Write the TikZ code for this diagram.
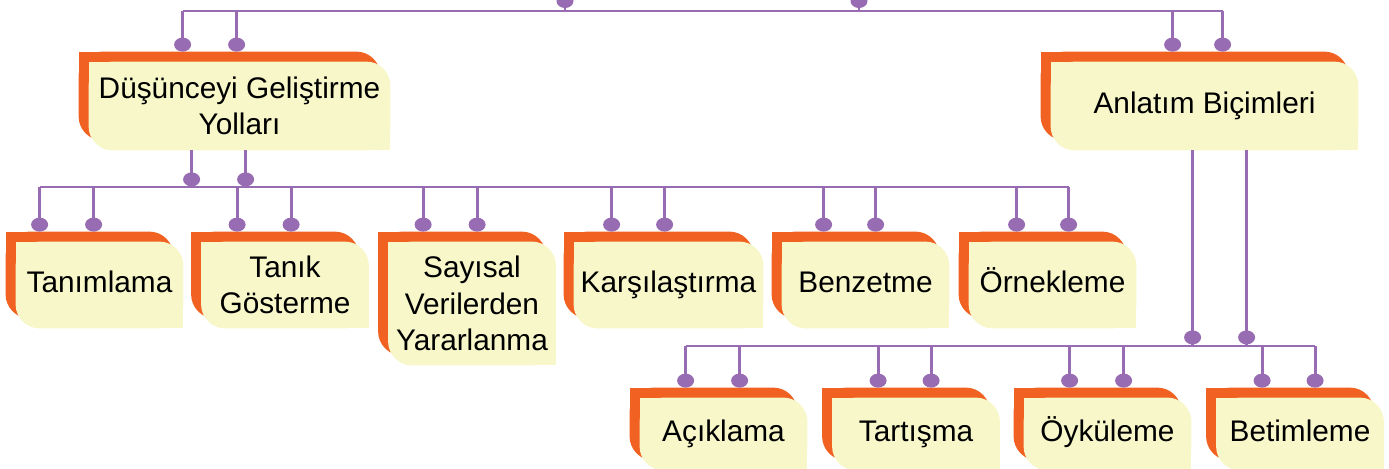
\documentclass[tikz,border=0pt]{standalone}
\usepackage{fontspec}
\setmainfont{Liberation Sans}
\usetikzlibrary{calc}
\usetikzlibrary{backgrounds}

\definecolor{linkpurple}{RGB}{152,108,178}
\definecolor{cardorange}{RGB}{241,98,34}
\definecolor{cardyellow}{RGB}{247,247,201}

\tikzset{
  cardbase/.style={inner sep=0pt, font=\fontsize{14.9}{18.3}\selectfont,
    minimum width=83.5pt, minimum height=43pt},
  card/.style={cardbase, align=center},
  oneline/.style={cardbase, text height=0.72em, text depth=0pt},
  link/.style={draw=linkpurple, line width=1.4pt},
}

\begin{document}
\begin{tikzpicture}[x=0.5pt, y=-0.5pt]
\useasboundingbox (0,0) rectangle (1389,468);
% cards
\node[card, minimum width=150.5pt, minimum height=44pt] (dgy) at (239.5,106) {Düşünceyi Geliştirme\\Yolları};
\node[oneline, minimum width=153.5pt, minimum height=44pt] (ab) at (1204.5,106) {Anlatım Biçimleri};
\node[oneline] (tan) at (99.5,285) {Tanımlama};
\node[card] (tg) at (285,285) {Tanık\\Gösterme};
\node[card, minimum height=61.5pt] (svy) at (472,303.5) {Sayısal\\Verilerden\\Yararlanma};
\node[oneline, minimum width=94.5pt] (kar) at (668.5,285) {Karşılaştırma};
\node[oneline] (benz) at (865.5,285) {Benzetme};
\node[oneline] (orn) at (1052.5,285) {Örnekleme};
\node[oneline, minimum height=36pt] (ack) at (723.5,434) {Açıklama};
\node[oneline, minimum height=36pt] (tart) at (916,434) {Tartışma};
\node[oneline, minimum height=36pt] (oyk) at (1107.5,434) {Öyküleme};
\node[oneline, minimum height=36pt] (bet) at (1300,434) {Betimleme};

% card backgrounds
\begin{scope}[on background layer]
\foreach \n in {dgy,ab,tan,tg,svy,kar,benz,orn,ack,tart,oyk,bet}{
  \fill[cardorange, rounded corners=12pt] ($(\n.south west)+(-10,-10)$) rectangle ($(\n.north east)+(-10,-10)$);
  \fill[cardorange] ($(\n.north west)+(-10,-10)$) rectangle ++(24,24);
  \fill[cardorange] ($(\n.south east)+(-10,-10)$) rectangle ++(-24,-24);
  \fill[cardyellow, rounded corners=12pt] (\n.south west) rectangle (\n.north east);
  \fill[cardyellow] (\n.north west) rectangle ++(24,24);
  \fill[cardyellow] (\n.south east) rectangle ++(-24,-24);
}
\end{scope}

% buses
\coordinate (topbus) at (0,11);
\coordinate (midbus) at (0,187);
\coordinate (lowbus) at (0,346);

% links into the cards
\foreach \n/\a/\b/\bus in {dgy/94/148/topbus, ab/122/172/topbus,
    tan/24/78/midbus, tg/36/90/midbus, svy/35/89/midbus, kar/38/91/midbus,
    benz/42/94/midbus, orn/48/100/midbus,
    ack/46/100/lowbus, tart/46/99/lowbus, oyk/46/100/lowbus, bet/46/99/lowbus}{
  \path (\n.north west) ++(\a,-17) coordinate (\n1) (\n.north west) ++(\b,-17) coordinate (\n2);
  \draw[link] (\n1) -- (\n1 |- \bus) (\n2) -- (\n2 |- \bus);
  \fill[linkpurple] (\n1) circle[x radius=8.5, y radius=7] (\n2) circle[x radius=8.5, y radius=7];
}

% links out of the cards
\path (dgy.south west) ++(103,29) coordinate (dgyO1) (dgy.south west) ++(157,29) coordinate (dgyO2);
\path (ab.south west) ++(142,187) coordinate (abO1) (ab.south west) ++(196,187) coordinate (abO2);
\foreach \o/\n/\bus in {dgyO1/dgy/midbus, dgyO2/dgy/midbus, abO1/ab/lowbus, abO2/ab/lowbus}{
  \draw[link] (\o |- \n.south) -- (\o |- \bus);
  \fill[linkpurple] (\o) circle[x radius=8.5, y radius=7];
}

% links leaving the top
\coordinate (up1) at (565,1);
\coordinate (up2) at (859,1);
\foreach \u in {up1,up2}{
  \draw[link] (\u) -- (\u |- topbus);
  \fill[linkpurple] (\u) circle[x radius=8.5, y radius=7];
}

\draw[link] (dgy1 |- topbus) -- (ab2 |- topbus);
\draw[link] (tan1 |- midbus) -- (orn2 |- midbus);
\draw[link] (ack1 |- lowbus) -- (bet2 |- lowbus);
\end{tikzpicture}
\end{document}
